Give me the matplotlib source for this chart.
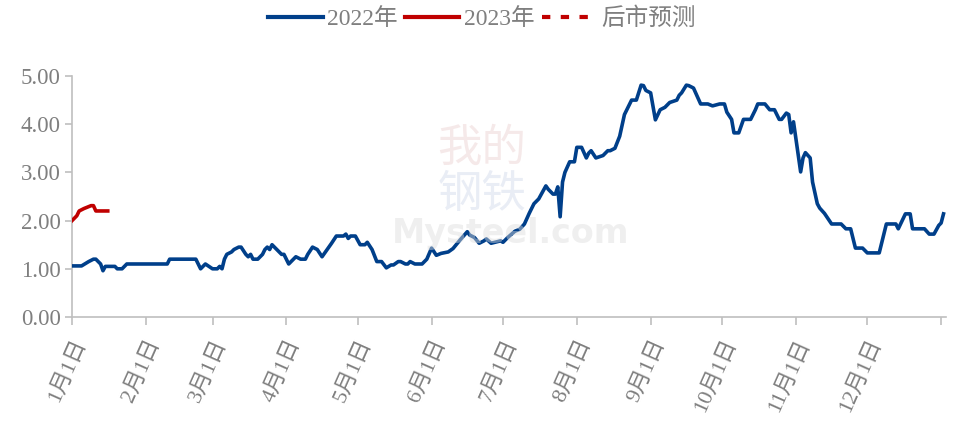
import numpy as np
import matplotlib
matplotlib.use('Agg')
import matplotlib.pyplot as plt
from matplotlib.lines import Line2D

plt.rcParams['font.family'] = ['Liberation Serif', 'Noto Sans CJK SC', 'DejaVu Sans']

# 2022年 (日序号, 数值)
days_2022 = [0, 4, 7, 9, 10, 12, 13, 14, 18, 19, 21, 23, 40, 41, 52, 54, 56, 59, 61, 62,
             63, 64, 65, 67, 68, 70, 71, 73, 74, 75, 76, 78, 80, 81, 82, 83, 84, 85, 86, 88,
             89, 91, 92, 94, 96, 98, 99, 101, 103, 105, 109, 111, 114, 115, 116, 117, 119, 121, 123, 124,
             126, 128, 130, 132, 134, 135, 137, 138, 140, 141, 142, 144, 147, 149, 151, 153, 155, 158, 160, 161,
             163, 166, 167, 169, 171, 173, 174, 176, 180, 181, 183, 186, 188, 190, 192, 194, 196, 199, 200, 202,
             203, 204, 205, 206, 207, 209, 211, 212, 214, 216, 217, 218, 220, 223, 225, 226, 228, 230, 232, 235,
             237, 239, 240, 241, 243, 245, 247, 249, 251, 254, 255, 256, 258, 259, 261, 264, 267, 269, 272, 274,
             275, 277, 278, 280, 282, 285, 287, 288, 291, 293, 295, 297, 298, 300, 301, 302, 303, 304, 306, 307,
             308, 310, 311, 313, 314, 316, 319, 323, 325, 327, 329, 332, 334, 339, 342, 346, 347, 350, 352, 353,
             358, 360, 362, 364, 365, 366]
vals_2022 = [1.06, 1.06, 1.15, 1.20, 1.20, 1.10, 0.96, 1.05, 1.05, 1.00, 1.00, 1.10, 1.10, 1.20, 1.20, 1.00, 1.10, 1.00, 1.00, 1.05,
             1.00, 1.20, 1.30, 1.35, 1.40, 1.45, 1.45, 1.30, 1.25, 1.30, 1.20, 1.20, 1.30, 1.40, 1.45, 1.40, 1.50, 1.45, 1.40, 1.30,
             1.30, 1.10, 1.15, 1.25, 1.20, 1.20, 1.30, 1.45, 1.40, 1.25, 1.53, 1.68, 1.68, 1.72, 1.63, 1.68, 1.68, 1.50, 1.50, 1.55,
             1.40, 1.15, 1.15, 1.02, 1.08, 1.08, 1.15, 1.15, 1.10, 1.10, 1.15, 1.10, 1.10, 1.20, 1.43, 1.28, 1.32, 1.35, 1.42, 1.48,
             1.60, 1.77, 1.70, 1.65, 1.53, 1.58, 1.62, 1.53, 1.58, 1.55, 1.65, 1.78, 1.82, 1.93, 2.15, 2.35, 2.45, 2.72, 2.65, 2.55,
             2.55, 2.70, 2.08, 2.80, 3.00, 3.22, 3.22, 3.52, 3.52, 3.30, 3.40, 3.45, 3.30, 3.35, 3.45, 3.45, 3.50, 3.75, 4.20, 4.50,
             4.50, 4.81, 4.80, 4.70, 4.65, 4.09, 4.30, 4.35, 4.45, 4.50, 4.60, 4.65, 4.81, 4.80, 4.75, 4.42, 4.42, 4.38, 4.42, 4.42,
             4.25, 4.10, 3.82, 3.82, 4.10, 4.10, 4.30, 4.42, 4.42, 4.30, 4.30, 4.10, 4.10, 4.23, 4.20, 3.82, 4.05, 3.70, 3.01, 3.30,
             3.41, 3.30, 2.80, 2.35, 2.26, 2.15, 1.93, 1.93, 1.83, 1.83, 1.43, 1.43, 1.33, 1.33, 1.93, 1.93, 1.83, 2.14, 2.14, 1.83,
             1.83, 1.72, 1.72, 1.90, 1.95, 2.14]

# 2023年
days_2023 = [0, 1, 2, 3, 5, 8, 9, 10, 15]
vals_2023 = [2.00, 2.05, 2.10, 2.20, 2.25, 2.31, 2.31, 2.20, 2.20]

month_start = [0, 31, 59, 90, 120, 151, 181, 212, 243, 273, 304, 334, 365]
month_labels = [f'{m}月1日' for m in range(1, 13)] + ['']

blue = '#003f8a'
red = '#c00000'
grey = '#7f7f7f'

fig = plt.figure(figsize=(9.54, 4.21), dpi=100)
ax = fig.add_axes([0.0755, 0.247, 0.916, 0.5725])

# 水印
fig.text(0.505, 0.648, '我的', fontsize=32, color='#e8c8c8', alpha=0.4,
         ha='center', va='center', family=['Noto Sans CJK SC'])
fig.text(0.505, 0.540, '钢铁', fontsize=32, color='#c8d2e6', alpha=0.4,
         ha='center', va='center', family=['Noto Sans CJK SC'])
fig.text(0.535, 0.445, 'Mysteel.com', fontsize=24, color='#dcdcdc', alpha=0.45,
         ha='center', va='center', fontweight='bold', family=['DejaVu Sans'])

ax.plot(days_2022, vals_2022, color=blue, lw=2.6, solid_joinstyle='round', zorder=3)
ax.plot(days_2023, vals_2023, color=red, lw=2.6, solid_joinstyle='round', zorder=4)

ax.set_xlim(0, 367)
ax.set_ylim(0, 5)
ax.set_yticks(np.arange(0, 5.01, 1))
ax.set_yticklabels([f'{v:.2f}' for v in np.arange(0, 5.01, 1)])
ax.set_xticks(month_start)
ax.set_xticklabels(month_labels, rotation=66, ha='right', va='top', rotation_mode='anchor')

for s in ['top', 'right']:
    ax.spines[s].set_visible(False)
for s in ['left', 'bottom']:
    ax.spines[s].set_color('#bfbfbf')
    ax.spines[s].set_linewidth(1.2)
ax.tick_params(axis='y', colors='#bfbfbf', labelcolor=grey, labelsize=16.5, length=5, width=1.2, pad=3)
ax.tick_params(axis='x', colors='#bfbfbf', labelcolor=grey, labelsize=16, length=6, width=1.2, pad=8)

handles = [Line2D([], [], color=blue, lw=3),
           Line2D([], [], color=red, lw=3),
           Line2D([], [], color=red, lw=3, ls=(0, (2, 2.5)))]
leg = fig.legend(handles, ['2022年', '2023年', '后市预测'], loc='center', bbox_to_anchor=(0.505, 0.955),
                 ncol=3, frameon=False, fontsize=17, handlelength=2.3, columnspacing=0.3, handletextpad=0.2)
for t in leg.get_texts():
    t.set_color(grey)

plt.savefig('out.png', dpi=100)
